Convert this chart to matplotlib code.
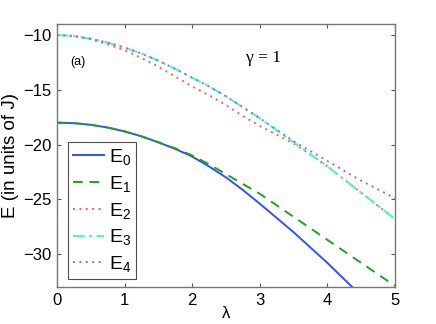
import matplotlib
matplotlib.use("Agg")
import matplotlib.pyplot as plt
import numpy as np

plt.rcParams['font.family'] = ['Liberation Sans', 'DejaVu Sans']
plt.rcParams['mathtext.fontset'] = 'custom'
plt.rcParams['mathtext.rm'] = 'Liberation Sans'
plt.rcParams['mathtext.it'] = 'Liberation Sans'

lam = [0, 0.25, 0.5, 0.75, 1, 1.25, 1.5, 1.75, 2, 2.25, 2.5, 2.75, 3, 3.25, 3.5, 3.75, 4, 4.25, 4.5, 4.75, 5]
E0 = [-18.0, -18.05, -18.2, -18.45, -18.8, -19.25, -19.8, -20.4, -21.1, -22.0, -23.0, -24.15, -25.4,
      -26.7, -28.0, -29.4, -30.8, -32.3, -33.8, -35.3, -36.8]
E1 = [-18.0, -18.05, -18.2, -18.45, -18.8, -19.25, -19.8, -20.35, -21.0, -21.8, -22.7, -23.6, -24.5,
      -25.55, -26.6, -27.65, -28.7, -29.75, -30.8, -31.85, -32.9]
E2 = [-10.0, -10.1, -10.4, -10.85, -11.4, -12.1, -12.9, -13.8, -14.7, -15.5, -16.4, -17.4, -18.3,
      -19.1, -19.9, -20.9, -22.0, -23.2, -24.4, -25.6, -26.8]
E3 = [-10.0, -10.1, -10.35, -10.7, -11.15, -11.7, -12.35, -13.1, -13.9, -14.7, -15.6, -16.6, -17.6,
      -18.7, -19.8, -20.9, -22.0, -23.2, -24.4, -25.6, -26.8]
E4 = [-10.0, -10.1, -10.35, -10.7, -11.15, -11.7, -12.35, -13.1, -13.9, -14.7, -15.6, -16.6, -17.6,
      -18.65, -19.7, -20.6, -21.5, -22.4, -23.3, -24.1, -24.9]

labels = ['$\\mathrm{E}_0$', '$\\mathrm{E}_1$', '$\\mathrm{E}_2$', '$\\mathrm{E}_3$', '$\\mathrm{E}_4$']

fig = plt.figure(figsize=(4.36, 3.24), dpi=100)
ax = fig.add_axes([57/436, 37/324, 338/436, 263/324])

ax.plot(lam, E0, color='#3050ff', ls='-', lw=1.4, label=labels[0])
ax.plot(lam, E1, color='#22a022', ls=(0, (5, 3.5)), lw=1.4, label=labels[1])
ax.plot(lam, E2, color='#ff5a5a', ls=(0, (1, 2.3)), lw=1.4, label=labels[2])
ax.plot(lam, E3, color='#40ffb0', ls=(0, (6, 2.3, 1.5, 2.3)), lw=1.4, label=labels[3])
ax.plot(lam, E4, color='#a060ff', ls=(0, (1, 2.3)), lw=1.4, label=labels[4])

ax.set_xlim(0, 5)
ax.set_ylim(-33, -9)
ax.set_xticks([0, 1, 2, 3, 4, 5])
ax.set_yticks([-30, -25, -20, -15, -10])
ax.tick_params(direction='in', top=True, right=True, labelsize=12, length=3, color='#555555', pad=4)
for s in ax.spines.values():
    s.set_color('#777777')
    s.set_linewidth(1.0)

ax.set_ylabel('E (in units of J)', fontsize=13.5, labelpad=3)
ax.set_xlabel('λ', fontsize=12, labelpad=-1)

ax.text(3.06, -12.1, 'γ = 1', fontsize=12.5, family=['Liberation Serif', 'DejaVu Serif'], ha='center', va='center')
ax.text(0.31, -12.5, '(a)', fontsize=9, ha='center', va='center')

leg = ax.legend(loc='lower left', bbox_to_anchor=(0.0325, 0.03), borderaxespad=0,
                fontsize=14, handlelength=1.6, handletextpad=0.25, labelspacing=0.35,
                fancybox=False, frameon=True, borderpad=0.25)
leg.get_frame().set_edgecolor('#222222')
leg.get_frame().set_linewidth(0.8)

fig.savefig('out.png', dpi=100)
